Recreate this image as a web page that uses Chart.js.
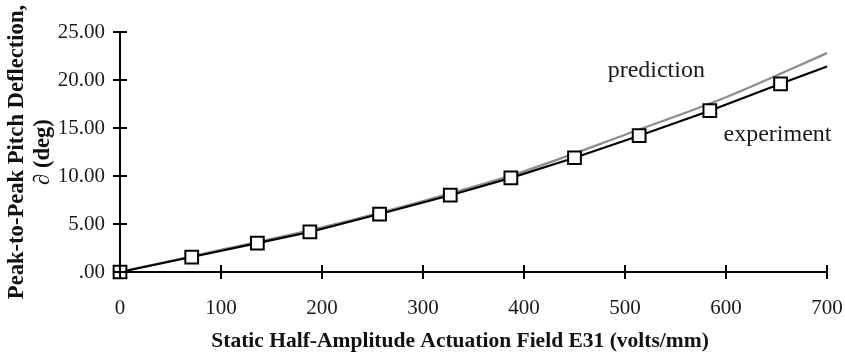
<!DOCTYPE html>
<html>
<head>
<meta charset="utf-8">
<script src="https://cdn.jsdelivr.net/npm/chart.js@4.4.1/dist/chart.umd.min.js"></script>
<style>
  html, body { margin: 0; padding: 0; background: #fff; }
  #wrap { width: 845px; height: 355px; }
</style>
</head>
<body>
<div id="wrap"><canvas id="deflChart" width="845" height="355"></canvas></div>
<script>
// measured deflection (markers)
const expField = [0, 71, 136, 188, 257, 327, 387, 450, 514, 584, 654, 700];
const expDefl = [0, 1.56, 3.0, 4.17, 6.04, 8.0, 9.8, 11.9, 14.2, 16.8, 19.6, 21.4];
// last point is only the end of the drawn curve, no marker
const expMarker = [1, 1, 1, 1, 1, 1, 1, 1, 1, 1, 1, 0];

// model prediction
const predField = [0, 100, 200, 300, 400, 500, 600, 700];
const predDefl = [0, 2.3, 4.65, 7.4, 10.5, 14.3, 18.2, 22.8];

const xTicks = [0, 100, 200, 300, 400, 500, 600, 700];
const yTicks = [0, 5, 10, 15, 20, 25];

const curveLabels = [
    { text: 'prediction', x: 531, y: 21.0 },
    { text: 'experiment', x: 651, y: 14.3 }
];

const serif = "'Liberation Serif', 'DejaVu Serif', serif";

// ticks that cross the axis line, like the original
const crossTicks = {
    id: 'crossTicks',
    afterDraw(chart) {
        const { ctx, chartArea, scales } = chart;
        ctx.save();
        ctx.strokeStyle = '#000';
        ctx.lineWidth = 2;
        ctx.beginPath();
        xTicks.forEach(v => {
            const px = Math.round(scales.x.getPixelForValue(v));
            ctx.moveTo(px, chartArea.bottom - 7);
            ctx.lineTo(px, chartArea.bottom + 7);
        });
        yTicks.forEach(v => {
            const py = Math.round(scales.y.getPixelForValue(v));
            ctx.moveTo(chartArea.left - 7, py);
            ctx.lineTo(chartArea.left + 7, py);
        });
        ctx.stroke();

        ctx.fillStyle = '#1a1a1a';
        ctx.font = '24px ' + serif;
        ctx.textAlign = 'center';
        ctx.textBaseline = 'middle';
        curveLabels.forEach(l => {
            ctx.fillText(l.text, scales.x.getPixelForValue(l.x), scales.y.getPixelForValue(l.y));
        });
        ctx.restore();
    }
};

const ctx = document.getElementById('deflChart').getContext('2d');

new Chart(ctx, {
    type: 'line',
    data: {
        datasets: [
            {
                label: 'experiment',
                data: expField.map((x, i) => ({ x: x, y: expDefl[i] })),
                borderColor: '#000',
                borderWidth: 2.2,
                tension: 0,
                pointStyle: 'rect',
                pointRadius: expMarker.map(m => m ? 9 : 0),
                pointBackgroundColor: '#fff',
                pointBorderColor: '#000',
                pointBorderWidth: 2,
                order: 1
            },
            {
                label: 'prediction',
                data: predField.map((x, i) => ({ x: x, y: predDefl[i] })),
                borderColor: '#8c8c8c',
                borderWidth: 2.2,
                cubicInterpolationMode: 'monotone',
                pointRadius: 0,
                order: 2
            }
        ]
    },
    options: {
        responsive: false,
        animation: false,
        clip: false,
        layout: { padding: { top: 32, right: 18, left: 0, bottom: 0 } },
        plugins: {
            legend: { display: false },
            tooltip: { enabled: false }
        },
        scales: {
            x: {
                type: 'linear',
                min: 0,
                max: 700,
                afterFit: (s) => {
                    s.height = 83;
                    s.paddingLeft = 0;
                    s.paddingRight = 0;
                },
                afterBuildTicks: (s) => { s.ticks = xTicks.map(v => ({ value: v })); },
                grid: { display: false },
                border: { display: true, color: '#000', width: 2 },
                ticks: {
                    color: '#1a1a1a',
                    padding: 16,
                    maxRotation: 0,
                    font: { family: serif, size: 21 }
                },
                title: {
                    display: true,
                    // trailing spaces nudge the centred title a little to the left
                    text: 'Static Half-Amplitude Actuation Field E31 (volts/mm)\u00a0\u00a0\u00a0\u00a0\u00a0',
                    color: '#111',
                    padding: { top: 0, bottom: 1 },
                    font: { family: serif, size: 21.5, weight: 'bold' }
                }
            },
            y: {
                min: 0,
                max: 25,
                afterFit: (s) => { s.width = 120; },
                afterBuildTicks: (s) => { s.ticks = yTicks.map(v => ({ value: v })); },
                grid: { display: false, drawTicks: false },
                border: { display: true, color: '#000', width: 2 },
                ticks: {
                    color: '#1a1a1a',
                    padding: 15,
                    font: { family: serif, size: 21 },
                    callback: (v) => v === 0 ? '.00' : v.toFixed(2)
                },
                title: {
                    display: true,
                    text: ['Peak-to-Peak Pitch Deflection,', '\u2202 (deg)'],
                    color: '#111',
                    padding: { top: 5, bottom: 0 },
                    font: { family: serif, size: 22.6, weight: 'bold', lineHeight: 1.12 }
                }
            }
        }
    },
    plugins: [crossTicks]
});
</script>
</body>
</html>
